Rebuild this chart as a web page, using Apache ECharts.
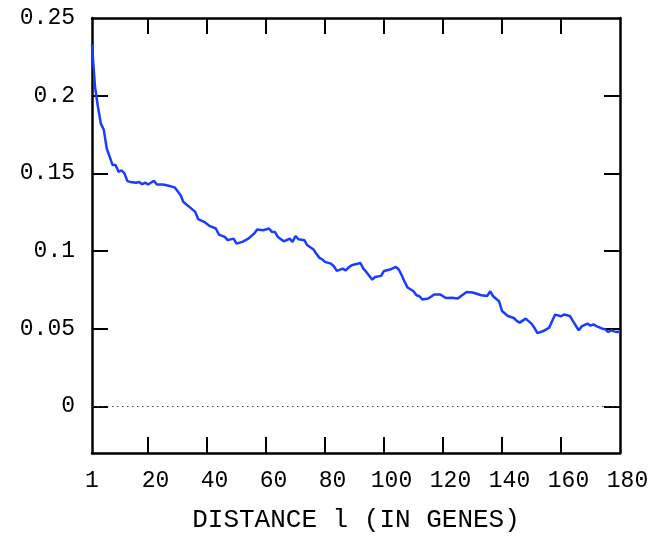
<!DOCTYPE html>
<html>
<head>
<meta charset="utf-8">
<script src="https://cdn.jsdelivr.net/npm/echarts@6/dist/echarts.min.js"></script>
<style>
html,body{margin:0;padding:0;background:#fff;}
#chart{width:670px;height:539px;}
</style>
</head>
<body>
<div id="chart"></div>
<script>
// Distance l (in genes)
var distances = [1,2,3,4,5,6,7,8,9,10,11,12,13,14,16,17,18,19,20,22,23,25,27,29,31,32,34,36,37,39,41,43,44,46,47,49,50,52,54,56,57,59,61,62,63,64,66,67,68,69,70,71,73,74,76,77,78,79,80,82,83,84,86,87,88,89,92,93,94,96,97,99,100,102,104,105,106,107,108,110,111,112,113,115,117,119,121,123,125,126,128,130,132,133,135,136,137,139,140,142,144,145,146,148,150,151,152,154,156,157,158,160,161,163,164,166,167,169,170,171,172,174,175,176,177,178,179,180];
var values = [0.233,0.206,0.193,0.182,0.178,0.166,0.1606,0.1553,0.1553,0.151,0.152,0.150,0.145,0.1445,0.144,0.1445,0.143,0.144,0.1428,0.1452,0.1428,0.1428,0.142,0.141,0.136,0.1316,0.1284,0.1252,0.1205,0.1188,0.116,0.1145,0.1106,0.1091,0.107,0.108,0.1048,0.1059,0.108,0.1113,0.1138,0.1134,0.1145,0.1123,0.1123,0.1091,0.1063,0.107,0.108,0.1059,0.1097,0.1076,0.107,0.1037,0.1012,0.0984,0.0958,0.0947,0.093,0.0919,0.0902,0.0872,0.0887,0.0876,0.0894,0.0909,0.0923,0.0887,0.0865,0.0816,0.0833,0.084,0.0872,0.0881,0.0898,0.0881,0.0844,0.0801,0.0765,0.0741,0.0715,0.0709,0.0688,0.0694,0.072,0.0721,0.0698,0.07,0.0694,0.0709,0.0737,0.0733,0.0722,0.0715,0.0711,0.0741,0.0709,0.0677,0.0614,0.0582,0.0569,0.055,0.0539,0.0565,0.0533,0.0505,0.0472,0.0485,0.0507,0.055,0.0591,0.058,0.0591,0.0582,0.055,0.049,0.0515,0.0533,0.052,0.0528,0.0517,0.05,0.0496,0.0479,0.049,0.0483,0.0479,0.048];
var xTickLabels = [1,20,40,60,80,100,120,140,160,180];
var xTicks = [20,40,60,80,100,120,140,160];
var yTickLabels = [0,0.05,0.1,0.15,0.2,0.25];
var yTicks = [0,0.05,0.1,0.15,0.2];
var xTitle = 'DISTANCE l (IN GENES)';

var FONT = '"Liberation Mono", "DejaVu Sans Mono", monospace';
var chart = echarts.init(document.getElementById('chart'), null, {renderer:'canvas'});
var axisLine = {show:true, onZero:false, lineStyle:{color:'#000', width:2.5}};
var tick = function(vals){ return {show:true, inside:true, length:16, customValues:vals, lineStyle:{color:'#000', width:2}}; };

var option = {
  animation:false,
  backgroundColor:'#fff',
  grid:{left:92, right:50, top:18, bottom:86, containLabel:false},
  xAxis:[{
    type:'value', min:1, max:180, position:'bottom',
    axisLine:axisLine, axisTick:tick(xTicks), splitLine:{show:false},
    axisLabel:{show:true, customValues:xTickLabels, margin:16, color:'#000', fontFamily:FONT, fontSize:23,
      formatter:function(v){ return v===1 ? '{n|1}' : '{s|'+v+'}'; },
      rich:{n:{fontFamily:FONT, fontSize:23, color:'#000'}, s:{fontFamily:FONT, fontSize:23, color:'#000', padding:[0,0,0,15]}}},
    name:xTitle, nameLocation:'middle', nameGap:54,
    nameTextStyle:{fontFamily:FONT, fontSize:26, color:'#000'}
  },{
    type:'value', min:1, max:180, position:'top',
    axisLine:axisLine, axisTick:tick(xTicks), axisLabel:{show:false}, splitLine:{show:false}
  }],
  yAxis:[{
    type:'value', min:-0.03, max:0.25, position:'left',
    axisLine:axisLine, axisTick:tick(yTicks), splitLine:{show:false},
    axisLabel:{show:true, customValues:yTickLabels, margin:17, color:'#000', fontFamily:FONT, fontSize:23,
      formatter:function(v){ return String(Math.round(v*100)/100); }}
  },{
    type:'value', min:-0.03, max:0.25, position:'right',
    axisLine:axisLine, axisTick:tick(yTicks), axisLabel:{show:false}, splitLine:{show:false}
  }],
  series:[{
    type:'line',
    data:distances.map(function(d,i){ return [d, values[i]]; }),
    showSymbol:false, symbol:'none',
    lineStyle:{color:'#1a3cff', width:2.5},
    z:3,
    markLine:{
      silent:true, symbol:['none','none'], label:{show:false},
      lineStyle:{color:'#444', type:[1.5,3.5], width:1.2},
      data:[{yAxis:0}],
      z:1
    }
  }]
};
chart.setOption(option);
</script>
</body>
</html>
